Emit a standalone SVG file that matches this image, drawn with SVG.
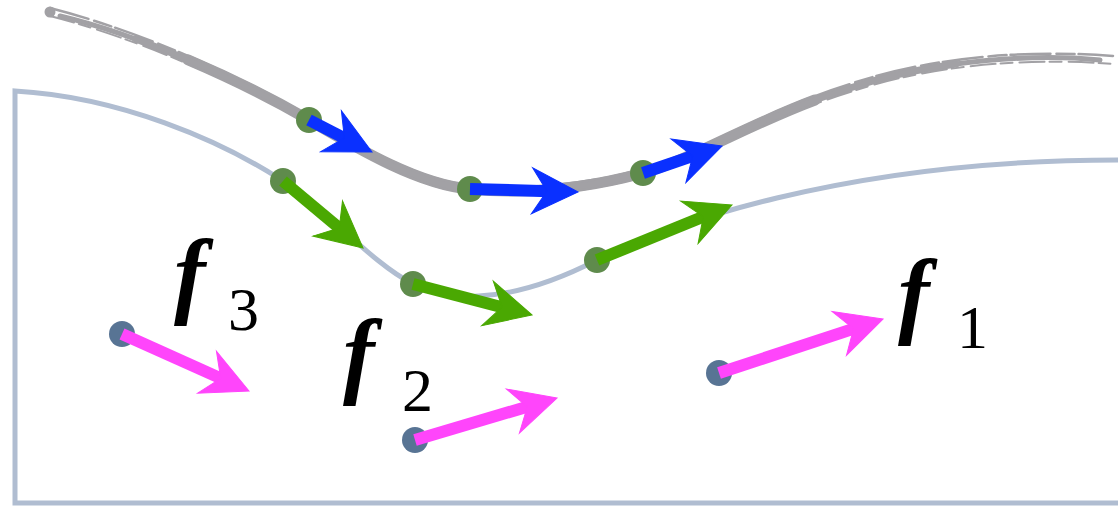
<svg xmlns="http://www.w3.org/2000/svg" xmlns:xlink="http://www.w3.org/1999/xlink" width="1118" height="507" viewBox="0 0 1118 507">
<style>
.box{fill:none;stroke:#b0bdd1;stroke-width:5}
.brush{fill:none;stroke:#a2a1a5;stroke-linecap:round}
.blue{stroke:#0a30ff;fill:#0a30ff}
.green{stroke:#4aa802;fill:#4aa802}
.pink{stroke:#ff45fb;fill:#ff45fb}
.shaft{stroke-width:12;fill:none}
.gdot{fill:#5f8b4c}
.bdot{fill:#587494}
.f{font-family:"Liberation Serif",serif;font-style:italic;font-weight:bold;font-size:95px;fill:#000}
.sub{font-family:"Liberation Serif",serif;font-size:62px;fill:#000}
</style>
<defs>
<path id="head" d="M0,0 L-46,-23 L-31,0 L-46,23 Z"/>
<path id="bc" d="M50,12 C140,35 240,80 309,120 C360,150 420,185 470,189 C520,194 580,190 643,173 C700,157 760,116 850,88 C940,58 1040,54 1113,60"/>
</defs>
<rect width="1118" height="507" fill="#ffffff"/>
<g id="manifold">
<path class="box" d="M1118,160 C840,160 660,228 597,260 C500,310 440,298 413,284 C370,262 330,212 283,181 C220,140 120,97 15,91 L15,503 L1118,503"/>
</g>
<g id="brush-curve">
<path class="brush" stroke-width="5" d="M60,16 C140,35 240,80 309,120 C360,150 420,185 470,189 C520,194 580,190 643,173 C700,157 760,116 850,88 C940,58 1040,54 1100,60"/>
<path class="brush" stroke-width="11" pathLength="1000" stroke-dasharray="0 130 600 1000" d="M50,12 C140,35 240,80 309,120 C360,150 420,185 470,189 C520,194 580,190 643,173 C700,157 760,116 850,88 C940,58 1040,54 1113,60"/>
<path class="brush" stroke-width="7" pathLength="1000" stroke-dasharray="0 80 780 1000" d="M50,12 C140,35 240,80 309,120 C360,150 420,185 470,189 C520,194 580,190 643,173 C700,157 760,116 850,88 C940,58 1040,54 1113,60"/>
<use xlink:href="#bc" class="brush" stroke-width="2.5" stroke-dasharray="40 6 18 4" transform="translate(0,-4)"/>
<use xlink:href="#bc" class="brush" stroke-width="2" stroke-dasharray="25 5 12 7" transform="translate(0,4)"/>
</g>
<g id="dots">
<circle class="gdot" cx="309" cy="120" r="13"/>
<circle class="gdot" cx="470" cy="189" r="13"/>
<circle class="gdot" cx="643" cy="173" r="13"/>
<circle class="gdot" cx="283" cy="181" r="13"/>
<circle class="gdot" cx="413" cy="284" r="13"/>
<circle class="gdot" cx="597" cy="260" r="13"/>
<circle class="bdot" cx="122" cy="334" r="13"/>
<circle class="bdot" cx="415" cy="440" r="13"/>
<circle class="bdot" cx="719" cy="373" r="13"/>
</g>
<g id="connectors">
<g class="blue">
<line class="shaft" x1="309" y1="120" x2="346" y2="139"/>
<use xlink:href="#head" transform="translate(372,152) rotate(26.93)"/>
<line class="shaft" x1="470" y1="189" x2="549" y2="191.2"/>
<use xlink:href="#head" transform="translate(578,192) rotate(1.59)"/>
<line class="shaft" x1="643" y1="173" x2="694.5" y2="155.4"/>
<use xlink:href="#head" transform="translate(722,146) rotate(-18.87)"/>
</g>
<g class="green">
<line class="shaft" x1="283" y1="181" x2="341" y2="229.5"/>
<use xlink:href="#head" transform="translate(363,248) rotate(39.94)"/>
<line class="shaft" x1="413" y1="284" x2="504" y2="307.7"/>
<use xlink:href="#head" transform="translate(532,315) rotate(14.6)"/>
<line class="shaft" x1="597" y1="260" x2="705" y2="216"/>
<use xlink:href="#head" transform="translate(732,205) rotate(-22.17)"/>
</g>
<g class="pink">
<line class="shaft" x1="122" y1="334" x2="222.5" y2="379.1"/>
<use xlink:href="#head" transform="translate(249,391) rotate(24.17)"/>
<line class="shaft" x1="415" y1="440" x2="529" y2="406.2"/>
<use xlink:href="#head" transform="translate(557,398) rotate(-16.48)"/>
<line class="shaft" x1="719" y1="373" x2="855.5" y2="328.1"/>
<use xlink:href="#head" transform="translate(883,319) rotate(-18.23)"/>
</g>
</g>
<g id="label-f3"><text class="f" x="174" y="306">f</text><text class="sub" x="228" y="330">3</text></g>
<g id="label-f2"><text class="f" x="343" y="386">f</text><text class="sub" x="402" y="411">2</text></g>
<g id="label-f1"><text class="f" x="898" y="326">f</text><text class="sub" x="957" y="348">1</text></g>
</svg>
